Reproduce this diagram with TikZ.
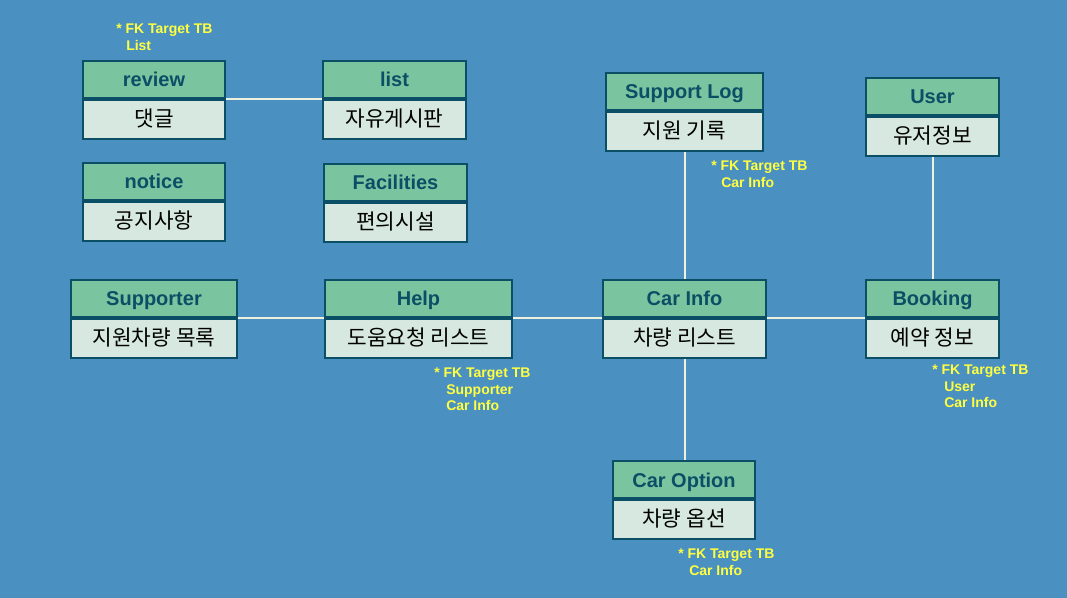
\documentclass[tikz,border=0pt]{standalone}
\usepackage{fontspec}
\setmainfont{Liberation Sans}
\newfontfamily\kr{Noto Sans CJK KR}
\usetikzlibrary{positioning}

\definecolor{bgblue}{RGB}{74,145,194}
\definecolor{hdrgreen}{RGB}{123,196,160}
\definecolor{bdygray}{RGB}{214,232,224}
\definecolor{tealdark}{RGB}{11,79,102}
\definecolor{linkcream}{RGB}{240,240,222}
\definecolor{noteyellow}{RGB}{255,255,64}

\newdimen\px \px=0.75pt

\tikzset{
  hdr/.style={draw=tealdark, line width=2\px, fill=hdrgreen, anchor=north west,
    minimum height=37\px, inner sep=0pt, text=tealdark,
    text height=12pt, text depth=0.75pt,
    font=\fontsize{15}{16}\selectfont\bfseries},
  bdy/.style={draw=tealdark, line width=2\px, fill=bdygray, anchor=north west,
    minimum height=39\px, inner sep=0pt, text=black,
    text height=12.5pt, text depth=2.25pt,
    font=\kr\fontsize{16}{17}\selectfont},
  sep/.style={draw=tealdark, line width=4\px},
  link/.style={draw=linkcream, line width=2\px},
  note/.style={anchor=north west, inner sep=0pt, align=left, text=noteyellow,
    font=\fontsize{10.5}{12.2}\selectfont\bfseries}
}

\begin{document}
\begin{tikzpicture}[x=0.75pt,y=0.75pt,yscale=-1,xscale=1]
\fill[bgblue] (0,0) rectangle (1067,598);

% review
\node[hdr, minimum width=142\px] (review) at (82,60) {review};
\node[bdy, minimum width=142\px] (review-b) at (review.south west) {댓글};
\draw[sep] (review.south west) -- (review.south east);
% list
\node[hdr, minimum width=143\px] (list) at (322,60) {list};
\node[bdy, minimum width=143\px] (list-b) at (list.south west) {자유게시판};
\draw[sep] (list.south west) -- (list.south east);
% notice
\node[hdr, minimum width=142\px] (notice) at (82,162) {notice};
\node[bdy, minimum width=142\px] (notice-b) at (notice.south west) {공지사항};
\draw[sep] (notice.south west) -- (notice.south east);
% Facilities
\node[hdr, minimum width=143\px] (facilities) at (323,163) {Facilities};
\node[bdy, minimum width=143\px] (facilities-b) at (facilities.south west) {편의시설};
\draw[sep] (facilities.south west) -- (facilities.south east);
% Support Log
\node[hdr, minimum width=157\px] (supportlog) at (605,72) {Support Log};
\node[bdy, minimum width=157\px] (supportlog-b) at (supportlog.south west) {지원 기록};
\draw[sep] (supportlog.south west) -- (supportlog.south east);
% User
\node[hdr, minimum width=133\px] (user) at (865,77) {User};
\node[bdy, minimum width=133\px] (user-b) at (user.south west) {유저정보};
\draw[sep] (user.south west) -- (user.south east);
% Supporter
\node[hdr, minimum width=166\px] (supporter) at (70,279) {Supporter};
\node[bdy, minimum width=166\px] (supporter-b) at (supporter.south west) {지원차량 목록};
\draw[sep] (supporter.south west) -- (supporter.south east);
% Help
\node[hdr, minimum width=187\px] (help) at (324,279) {Help};
\node[bdy, minimum width=187\px] (help-b) at (help.south west) {도움요청 리스트};
\draw[sep] (help.south west) -- (help.south east);
% Car Info
\node[hdr, minimum width=163\px] (carinfo) at (602,279) {Car Info};
\node[bdy, minimum width=163\px] (carinfo-b) at (carinfo.south west) {차량 리스트};
\draw[sep] (carinfo.south west) -- (carinfo.south east);
% Booking
\node[hdr, minimum width=133\px] (booking) at (865,279) {Booking};
\node[bdy, minimum width=133\px] (booking-b) at (booking.south west) {예약 정보};
\draw[sep] (booking.south west) -- (booking.south east);
% Car Option
\node[hdr, minimum width=142\px] (caroption) at (612,460) {Car Option};
\node[bdy, minimum width=142\px] (caroption-b) at (caroption.south west) {차량 옵션};
\draw[sep] (caroption.south west) -- (caroption.south east);

% links
\draw[link] (review.south east) -- (list.south west);
\draw[link] (supporter.south east) -- (help.south west);
\draw[link] (help.south east) -- (carinfo.south west);
\draw[link] (carinfo.south east) -- (booking.south west);
\draw[link] (supportlog-b.south) -- (supportlog-b.south |- carinfo.north);
\draw[link] (user-b.south) -- (user-b.south |- booking.north);
\draw[link] (carinfo-b.south) -- (carinfo-b.south |- caroption.north);

% FK notes
\node[note] (note-review) at (116,24) {* FK Target TB\\\hspace{10\px}List};
\node[note] (note-supportlog) at (711,161) {* FK Target TB\\\hspace{10\px}Car Info};
\node[note] (note-help) at (434,368) {* FK Target TB\\\hspace{12\px}Supporter\\\hspace{12\px}Car Info};
\node[note] (note-booking) at (932,365) {* FK Target TB\\\hspace{12\px}User\\\hspace{12\px}Car Info};
\node[note] (note-caroption) at (678,549) {* FK Target TB\\\hspace{11\px}Car Info};

\end{tikzpicture}
\end{document}
